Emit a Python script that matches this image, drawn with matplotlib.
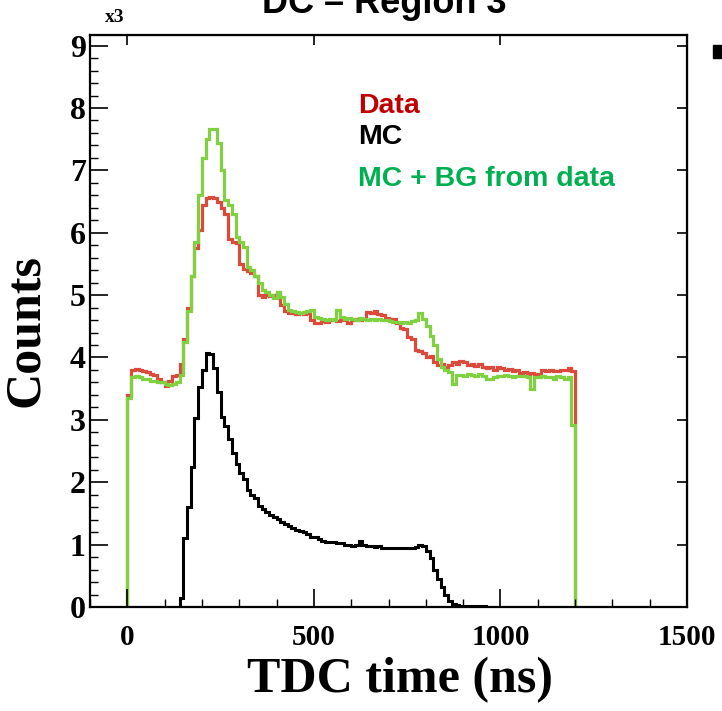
import matplotlib
matplotlib.use("Agg")

import numpy as np
import matplotlib.pyplot as plt
from matplotlib.patches import Rectangle
from matplotlib.ticker import MultipleLocator, NullLocator

# bin edges (ns)
data_edges = np.arange(0, 1201, 10)
mc_edges = np.arange(140, 961, 10)

# Data (red), counts in units of 10^3, 10 ns bins from 0 to 1200
data_counts = [
    3.40, 3.80, 3.82, 3.80, 3.78, 3.76, 3.73, 3.72, 3.66, 3.60,
    3.55, 3.62, 3.70, 3.72, 3.90, 4.30, 4.80, 5.30, 5.75, 6.05,
    6.45, 6.55, 6.57, 6.55, 6.50, 6.40, 6.30, 5.90, 5.85, 5.83,
    5.50, 5.42, 5.38, 5.35, 5.30, 5.00, 4.97, 5.00, 4.98, 5.00,
    5.02, 4.84, 4.75, 4.71, 4.72, 4.70, 4.71, 4.70, 4.72, 4.60,
    4.55, 4.55, 4.58, 4.57, 4.60, 4.60, 4.58, 4.60, 4.60, 4.55,
    4.60, 4.61, 4.60, 4.62, 4.73, 4.72, 4.74, 4.70, 4.68, 4.63,
    4.62, 4.62, 4.55, 4.47, 4.45, 4.33, 4.30, 4.12, 4.10, 4.07,
    4.00, 4.02, 3.92, 3.88, 3.90, 3.85, 3.88, 3.93, 3.90, 3.95,
    3.92, 3.88, 3.90, 3.87, 3.90, 3.85, 3.83, 3.85, 3.80, 3.85,
    3.83, 3.80, 3.82, 3.78, 3.80, 3.75, 3.76, 3.73, 3.75, 3.74,
    3.72, 3.80, 3.78, 3.80, 3.78, 3.79, 3.80, 3.80, 3.83, 3.78,
]

# MC + BG from data (green)
mcbg_counts = [
    3.35, 3.68, 3.70, 3.68, 3.66, 3.65, 3.63, 3.62, 3.60, 3.60,
    3.58, 3.56, 3.57, 3.60, 3.72, 4.25, 4.75, 5.30, 5.85, 6.60,
    7.20, 7.50, 7.66, 7.66, 7.44, 7.00, 6.52, 6.45, 6.30, 5.93,
    5.85, 5.77, 5.45, 5.40, 5.30, 5.20, 5.08, 5.05, 5.00, 4.95,
    5.05, 4.97, 4.85, 4.76, 4.74, 4.73, 4.72, 4.73, 4.74, 4.76,
    4.65, 4.63, 4.62, 4.60, 4.62, 4.60, 4.76, 4.65, 4.62, 4.63,
    4.62, 4.60, 4.63, 4.62, 4.60, 4.62, 4.60, 4.62, 4.60, 4.60,
    4.58, 4.57, 4.57, 4.55, 4.57, 4.56, 4.58, 4.60, 4.71, 4.62,
    4.50, 4.35, 4.20, 3.97, 3.85, 3.80, 3.76, 3.58, 3.72, 3.72,
    3.70, 3.74, 3.72, 3.70, 3.73, 3.70, 3.66, 3.66, 3.68, 3.70,
    3.70, 3.72, 3.70, 3.68, 3.70, 3.70, 3.70, 3.68, 3.50, 3.68,
    3.68, 3.70, 3.68, 3.68, 3.66, 3.70, 3.68, 3.66, 3.68, 2.92,
]

# MC (black), 10 ns bins from 140 to 960
mc_counts = [
    0.15, 1.10, 1.60, 2.24, 3.03, 3.53, 3.80, 4.07, 4.05, 3.83,
    3.45, 3.05, 2.90, 2.70, 2.47, 2.30, 2.15, 2.05, 1.87, 1.80,
    1.74, 1.62, 1.57, 1.52, 1.48, 1.44, 1.41, 1.36, 1.33, 1.30,
    1.26, 1.24, 1.22, 1.21, 1.17, 1.13, 1.12, 1.09, 1.06, 1.05,
    1.04, 1.04, 1.02, 1.03, 1.00, 0.99, 0.98, 1.00, 1.06, 1.00,
    0.97, 0.98, 0.96, 0.97, 0.95, 0.95, 0.95, 0.95, 0.95, 0.95,
    0.95, 0.95, 0.95, 0.96, 0.99, 0.97, 0.90, 0.78, 0.60, 0.45,
    0.32, 0.20, 0.10, 0.05, 0.03, 0.02, 0.02, 0.02, 0.02, 0.02,
    0.02, 0.02,
]

legend_labels = ["Data", "MC", "MC + BG from data"]
legend_colors = ["#c00000", "black", "#00b050"]

serif = "Liberation Serif"
sans = "Liberation Sans"

fig = plt.figure(figsize=(7.22, 7.11), dpi=100)
ax = fig.add_axes([90 / 722, 1 - 607 / 711, 597 / 722, 572 / 711])

ax.stairs(data_counts, data_edges, color="#dc4a3c", lw=2.3)
ax.stairs(mcbg_counts, data_edges, color="#7fd13f", lw=2.3)
ax.stairs(mc_counts, mc_edges, color="black", lw=2.2)

ax.set_xlim(-100, 1500)
ax.set_ylim(0, 9.17)

# ROOT-like axes
for s in ax.spines.values():
    s.set_linewidth(1.6)
ax.xaxis.set_major_locator(MultipleLocator(500))
ax.xaxis.set_minor_locator(MultipleLocator(100))
ax.yaxis.set_major_locator(MultipleLocator(1))
ax.yaxis.set_minor_locator(MultipleLocator(0.2))
ax.tick_params(which="major", direction="in", length=13, width=1.2)
ax.tick_params(which="minor", direction="in", length=6, width=1.0)
ax.tick_params(axis="x", pad=12)
ax.tick_params(axis="y", pad=3)
for lab in ax.get_xticklabels():
    lab.set_family(serif)
    lab.set_fontweight("bold")
    lab.set_fontsize(21)
for lab in ax.get_yticklabels():
    lab.set_family(serif)
    lab.set_fontweight("bold")
    lab.set_fontsize(23)

top = ax.secondary_xaxis("top")
top.set_xticks([0, 500, 1000, 1500])
top.xaxis.set_minor_locator(NullLocator())
top.tick_params(direction="in", length=7, width=1.2, labeltop=False)
right = ax.secondary_yaxis("right")
right.set_yticks(range(10))
right.yaxis.set_minor_locator(NullLocator())
right.tick_params(direction="in", length=7, width=1.2, labelright=False)

ax.set_xlabel("TDC time (ns)", family=serif, fontweight="bold", fontsize=36)
ax.xaxis.set_label_coords(0.519, -0.087)
ax.set_ylabel("Counts", family=serif, fontweight="bold", fontsize=36)
ax.yaxis.set_label_coords(-0.068, 0.484)

fig.text(115 / 722, 1 - 17 / 711, "x3", family=serif, fontweight="bold",
         fontsize=14, ha="center", va="center")

# legend as coloured text
legend_y = [113, 144, 186]
for lab, col, yb in zip(legend_labels, legend_colors, legend_y):
    fig.text(358 / 722, 1 - yb / 711, lab, color=col, family=sans,
             fontweight="bold", fontsize=20.5, ha="left", va="baseline")

# slide title (cut at the top) and bullet
fig.text(384 / 722, 1 - 13 / 711, "DC – Region 3", family=sans,
         fontweight="bold", fontsize=26, ha="center", va="baseline")
fig.patches.append(Rectangle((713 / 722, 1 - 58 / 711), 12 / 722, 13 / 711,
                             transform=fig.transFigure, color="black"))

fig.savefig("out.png", dpi=100)
